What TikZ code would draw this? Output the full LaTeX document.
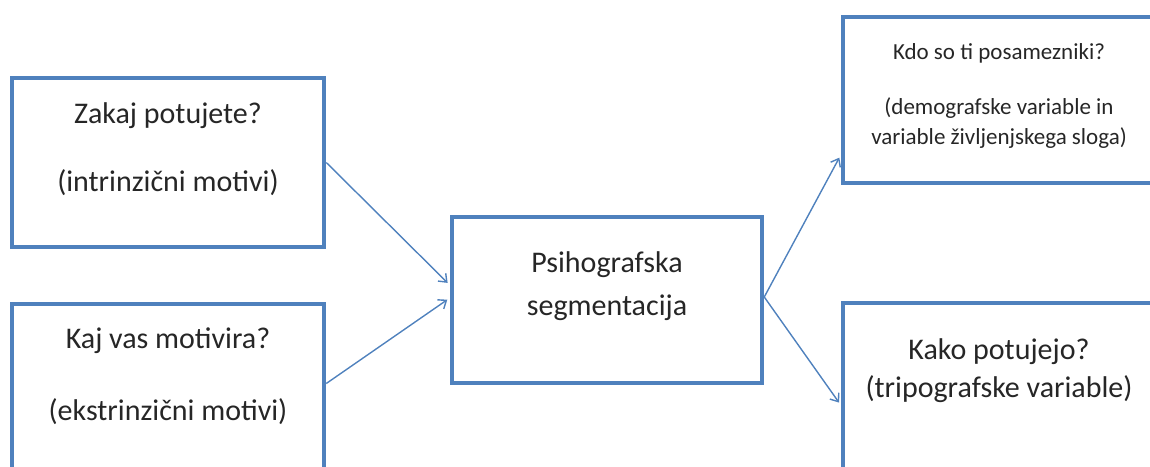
\documentclass[tikz,border=0pt]{standalone}
\usepackage{fontspec}
\setmainfont{Carlito}
\usetikzlibrary{arrows.meta}
\definecolor{flowblue}{HTML}{4F81BD}

\begin{document}
\begin{tikzpicture}[x=1pt,y=-1pt]
    \tikzstyle{box}=[rectangle,draw=flowblue,line width=4.5pt,inner sep=0pt,minimum width=312pt,minimum height=169pt]
    \tikzstyle{question}=[align=center,text=black!85,font=\fontsize{30}{36}\selectfont]
    \tikzstyle{small question}=[question,font=\fontsize{23}{28}\selectfont]
    \tikzstyle{link}=[-{Straight Barb[length=7pt,width=11pt]},draw=flowblue,line width=1.4pt,shorten >=3pt]

    \useasboundingbox (0,0) rectangle (1150,466);
    \clip (0,0) rectangle (1150,466);

    % Draw the question boxes on the left
    \node[box] (zak) at (168,162.5) {};
    \node[box] (kaj) at (168,388.5) {};

    % Draw the segmentation box in the middle
    \node[box,minimum width=310pt,minimum height=166pt] (psi) at (607,300) {};

    % Draw the boxes on the right
    \node[box,minimum height=166pt] (kdo) at (999,100) {};
    \node[box] (kak) at (999,387.5) {};

    % Texts inside the boxes
    \node[question] (zak-t) at ([yshift=13.5pt]zak.center) {Zakaj potujete?\\[32pt](intrinzični motivi)};
    \node[question] (kaj-t) at ([yshift=12.5pt]kaj.center) {Kaj vas motivira?\\[36pt](ekstrinzični motivi)};
    \node[question] (psi-t) at ([yshift=13.5pt]psi.center) {Psihografska\\[7pt]segmentacija};
    \node[small question] (kdo-t) at ([yshift=4.5pt]kdo.center) {Kdo so ti posamezniki?\\[27pt](demografske variable in\\[2pt]variable življenjskega sloga)};
    \node[question] (kak-t) at ([yshift=16.5pt]kak.center) {Kako potujejo?\\[2pt](tripografske variable)};

    % Connect the left boxes with the middle one
    \draw[link] (zak.east) -- ([yshift=15pt]psi.west);
    \draw[link] ([yshift=5pt]kaj.east) -- ([yshift=2pt]psi.west);

    % Connect the middle box with the right boxes
    \draw[link] ([yshift=3pt]psi.east) -- ([yshift=-55pt]kdo.west);
    \draw[link] ([yshift=3pt]psi.east) -- ([yshift=-17.5pt]kak.west);

\end{tikzpicture}
\end{document}
